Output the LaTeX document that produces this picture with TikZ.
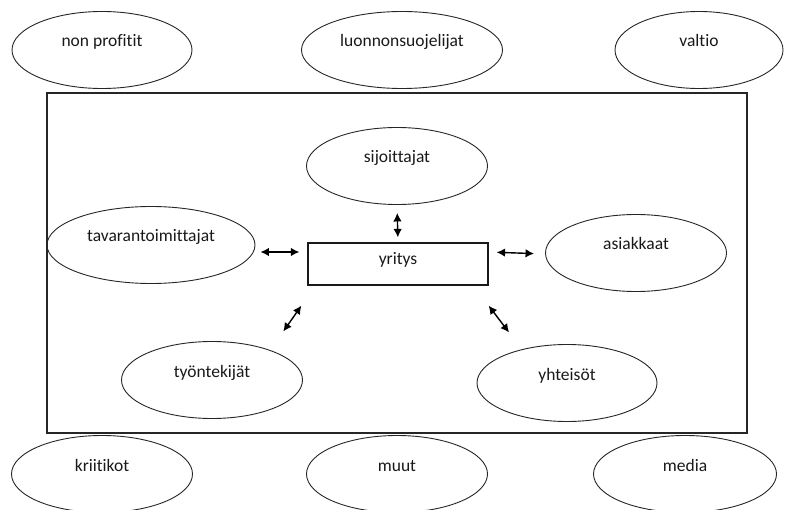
\documentclass[tikz,border=0pt]{standalone}
\usepackage{fontspec}
\setmainfont{Carlito}[Ligatures=NoCommon]
\usetikzlibrary{shapes.geometric,arrows.meta}

\begin{document}
\begin{tikzpicture}[x=1pt,y=-1pt,
  every node/.style={font=\fontsize{17.5}{20}\selectfont, text=black!90},
  stake/.style={draw=black!85, ellipse, line width=0.9pt, minimum height=77pt,
    inner sep=0pt, text height=12pt, text depth=18pt},
  firm/.style={draw=black!90, rectangle, line width=1.2pt, minimum width=180pt,
    minimum height=42pt, inner sep=0pt, text height=12pt, text depth=10pt},
  link/.style={line width=1.4pt,
    {Latex[length=8.5pt,width=8.5pt]}-{Latex[length=8.5pt,width=8.5pt]}}]

\useasboundingbox (0,0) rectangle (786,510);

% inner circle of stakeholders
\node[draw=black!85, line width=1.3pt, minimum width=700pt, minimum height=340pt,
  inner sep=0pt] (frame) at (397,263) {};

% outer stakeholders
\node[stake, minimum width=180pt] (nonprof) at (102,50) {non profitit};
\node[stake, minimum width=201pt] (luonto)  at (402,50) {luonnonsuojelijat};
\node[stake, minimum width=168pt] (valtio)  at (699,50) {valtio};
\node[stake, minimum width=181pt] (kriit)   at (102,474) {kriitikot};
\node[stake, minimum width=181pt] (muut)    at (397,474) {muut};
\node[stake, minimum width=183pt] (media)   at (685,474) {media};

% company and its direct stakeholders
\node[firm] (yritys) at (398,264) {yritys};
\node[stake, minimum width=181pt] (sijoit) at (397,166) {sijoittajat};
\node[stake, minimum width=208pt] (tavara) at (151,245) {tavarantoimittajat};
\node[stake, minimum width=181pt] (asiak)  at (636,253) {asiakkaat};
\node[stake, minimum width=181pt] (tyont)  at (212,380) {työntekijät};
\node[stake, minimum width=180pt] (yhteis) at (567,383) {yhteisöt};

% two-way relations
\draw[link, shorten <=8pt, shorten >=5pt] (sijoit.south) -- (yritys.north);
\draw[link, shorten <=5pt, shorten >=8pt]
  ([yshift=-7pt]tavara.east) -- ([yshift=12pt]yritys.west);
\draw[link, shorten <=8pt, shorten >=11pt]
  ([yshift=12pt]yritys.east) -- ([yshift=-1pt]asiak.west);
\draw[link] ([xshift=-6pt,yshift=-20pt]yritys.south west)
  -- ([xshift=7pt,yshift=21pt]tyont.north east);
\draw[link] ([yshift=-20pt]yritys.south east)
  -- ([xshift=6pt,yshift=23pt]yhteis.north west);
\end{tikzpicture}
\end{document}
